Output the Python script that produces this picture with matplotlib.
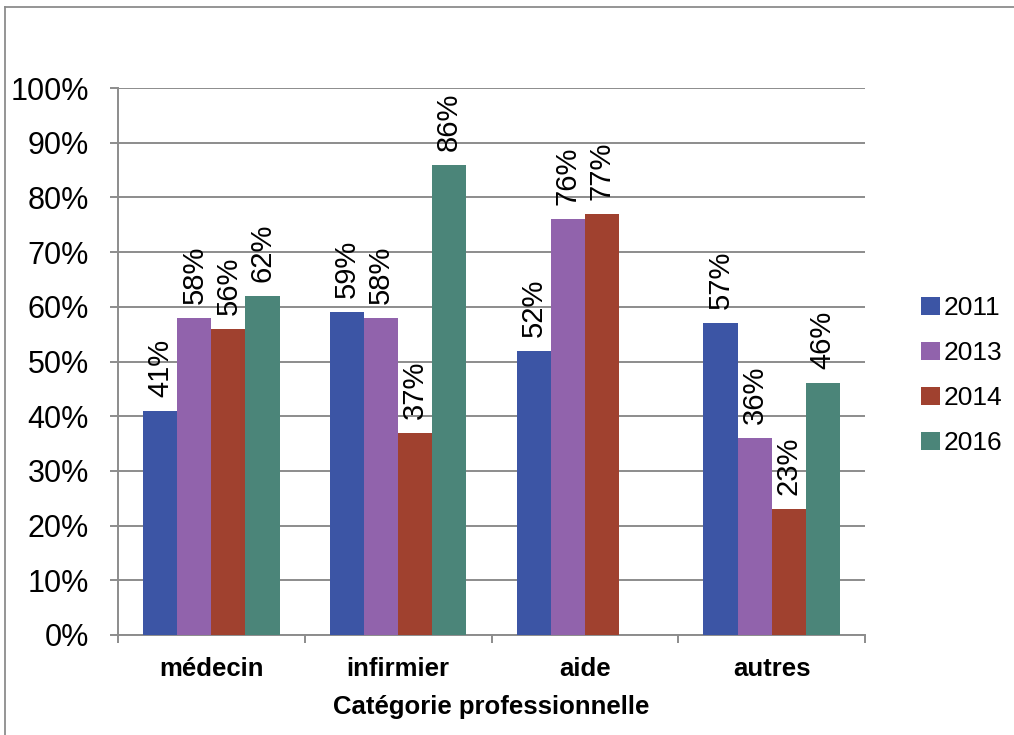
import matplotlib
matplotlib.use("Agg")
import matplotlib.pyplot as plt
import numpy as np
from matplotlib.lines import Line2D

categories = ["médecin", "infirmier", "aide", "autres"]
years = ["2011", "2013", "2014", "2016"]
v2011 = [41, 59, 52, 57]
v2013 = [58, 58, 76, 36]
v2014 = [56, 37, 77, 23]
v2016 = [62, 86, None, 46]
series = [v2011, v2013, v2014, v2016]
colors = ["#3C55A5", "#9163AC", "#A0412F", "#4B8579"]
yticks = [0, 10, 20, 30, 40, 50, 60, 70, 80, 90, 100]

plt.rcParams['font.family'] = ['Liberation Sans', 'DejaVu Sans']

fig = plt.figure(figsize=(10.14, 7.35), dpi=100)
bx, by = 5 / 1014, 1 - 6.5 / 735
fig.add_artist(Line2D([bx, bx], [0, by], transform=fig.transFigure,
                      color="#8c8c8c", linewidth=1.3))
fig.add_artist(Line2D([bx, 1], [by, by], transform=fig.transFigure,
                      color="#8c8c8c", linewidth=1.3))
ax = fig.add_axes([118 / 1014, 1 - 635 / 735, (865 - 118) / 1014, (635 - 88) / 735])

x = np.arange(len(categories))
bw = 0.73 / 4
for i, (vals, col, yr) in enumerate(zip(series, colors, years)):
    xs = [xi for xi, v in zip(x, vals) if v is not None]
    vs = [v for v in vals if v is not None]
    pos = np.array(xs) + (i - 1.5) * bw
    ax.bar(pos, vs, width=bw, color=col, label=yr, zorder=3)
    for p, v in zip(pos, vs):
        ax.annotate(f"{v}%", (p, v), xytext=(0, 10), textcoords="offset points",
                    rotation=90, ha="center", va="bottom", fontsize=21)

ax.set_xlim(-0.5, 3.5)
ax.set_ylim(0, 100)
ax.set_yticks(yticks)
ax.set_yticklabels([f"{t}%" for t in yticks], fontsize=22)
ax.yaxis.grid(True, color="#8c8c8c", linewidth=1.4, zorder=0)
ax.set_axisbelow(True)
ax.tick_params(axis="y", length=6, width=1.4, color="#8c8c8c", pad=15)

ax.set_xticks([-0.5, 0.5, 1.5, 2.5, 3.5])
ax.set_xticklabels([])
ax.set_xticks(x, minor=True)
ax.set_xticklabels(categories, minor=True, fontsize=18.5, fontweight="bold")
ax.tick_params(axis="x", which="major", length=6, width=1.4, color="#8c8c8c")
ax.tick_params(axis="x", which="minor", length=0, pad=16)
ax.set_xlabel("Catégorie professionnelle", fontsize=18.5, fontweight="bold", labelpad=10)

for s in ["top", "right"]:
    ax.spines[s].set_visible(False)
for s in ["left", "bottom"]:
    ax.spines[s].set_color("#8c8c8c")
    ax.spines[s].set_linewidth(1.4)

leg = ax.legend(loc="center left", bbox_to_anchor=(1.0614, 0.474), frameon=False,
                fontsize=19, handlelength=0.7, handleheight=0.7, handletextpad=0.15,
                labelspacing=0.80, borderaxespad=0)

fig.savefig("out.png", dpi=100)
